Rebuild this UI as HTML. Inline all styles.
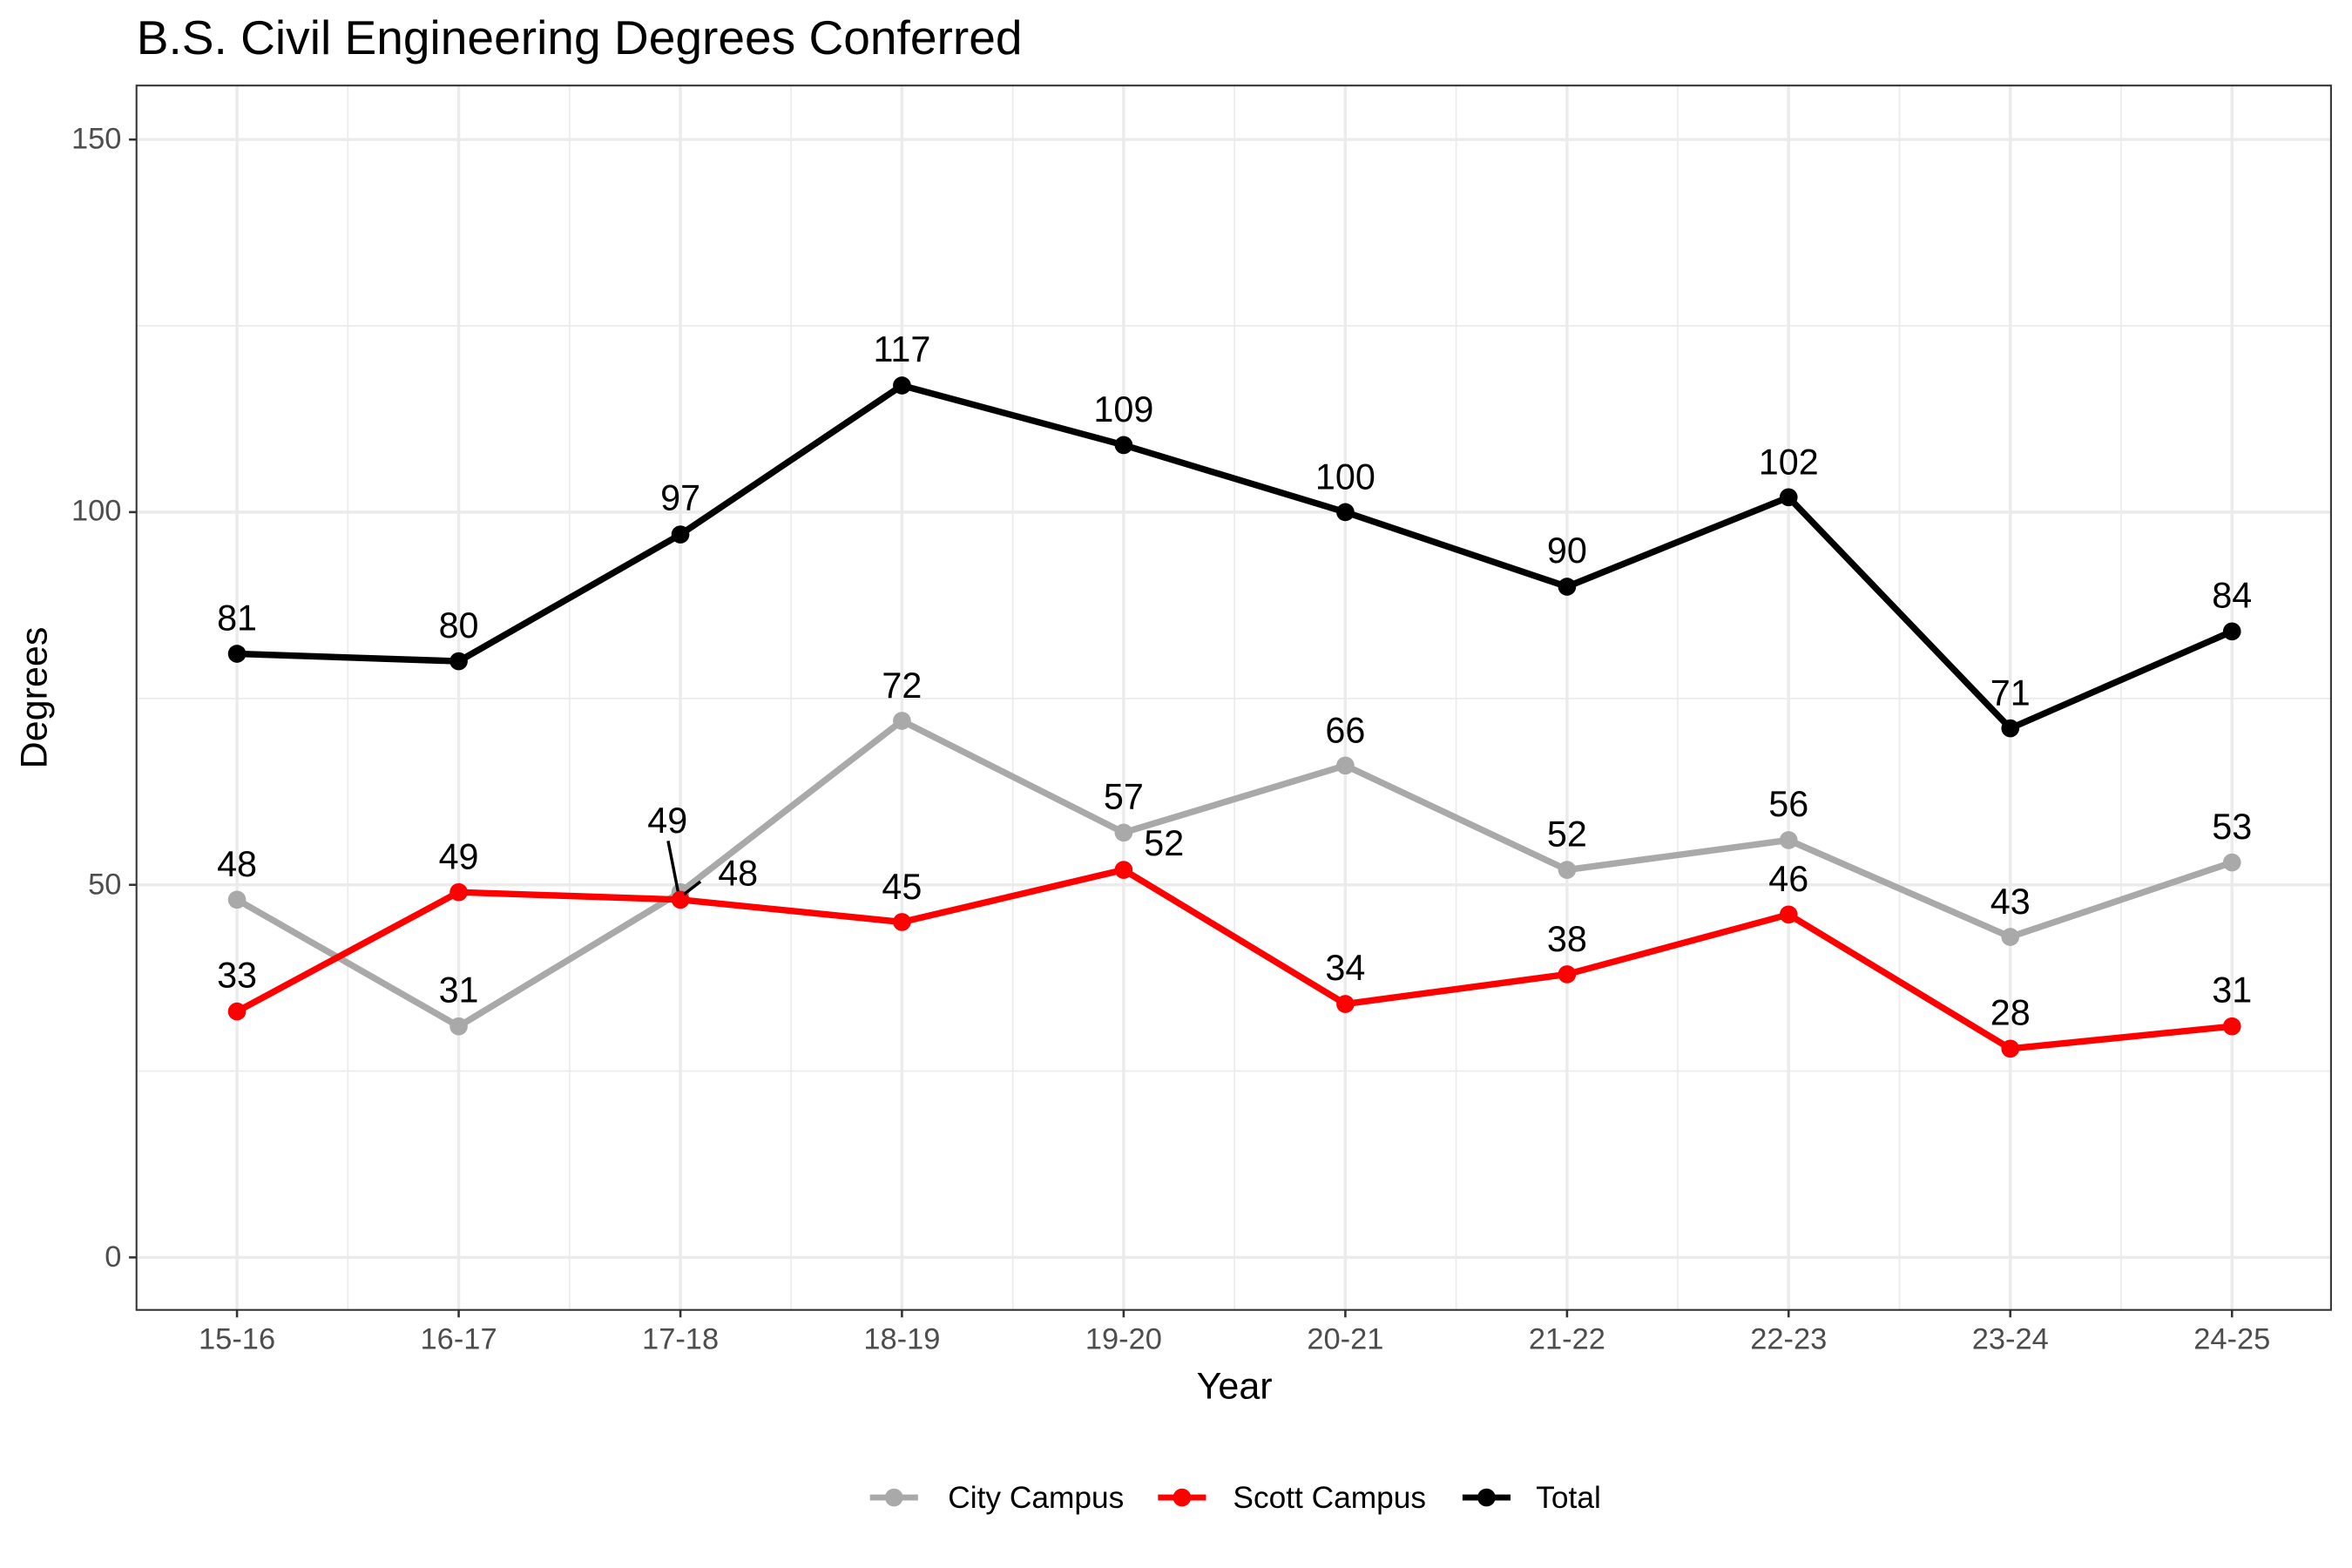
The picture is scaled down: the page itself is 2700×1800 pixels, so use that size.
<!DOCTYPE html>
<html><head><meta charset="utf-8"><style>html,body{margin:0;padding:0;background:#fff}svg{display:block}</style></head>
<body>
<svg width="2700" height="1800" viewBox="0 0 1568 1045" preserveAspectRatio="none" xmlns="http://www.w3.org/2000/svg" font-family="Liberation Sans, sans-serif">
<rect width="1568" height="1045" fill="#fff"/>
<text x="91" y="36" font-size="32" fill="#000">B.S. Civil Engineering Degrees Conferred</text>
<g stroke="#ebebeb" stroke-width="1">
<line x1="91" x2="1554" y1="713.8" y2="713.8"/><line x1="91" x2="1554" y1="465.5" y2="465.5"/><line x1="91" x2="1554" y1="217.2" y2="217.2"/>
<line x1="231.9" x2="231.9" y1="57" y2="873"/><line x1="379.7" x2="379.7" y1="57" y2="873"/><line x1="527.4" x2="527.4" y1="57" y2="873"/><line x1="675.2" x2="675.2" y1="57" y2="873"/><line x1="823" x2="823" y1="57" y2="873"/><line x1="970.8" x2="970.8" y1="57" y2="873"/><line x1="1118.5" x2="1118.5" y1="57" y2="873"/><line x1="1266.3" x2="1266.3" y1="57" y2="873"/><line x1="1414.1" x2="1414.1" y1="57" y2="873"/>
</g>
<g stroke="#ebebeb" stroke-width="2">
<line x1="91" x2="1554" y1="838" y2="838"/><line x1="91" x2="1554" y1="589.7" y2="589.7"/><line x1="91" x2="1554" y1="341.3" y2="341.3"/><line x1="91" x2="1554" y1="93" y2="93"/>
<line x1="158" x2="158" y1="57" y2="873"/><line x1="305.8" x2="305.8" y1="57" y2="873"/><line x1="453.6" x2="453.6" y1="57" y2="873"/><line x1="601.3" x2="601.3" y1="57" y2="873"/><line x1="749.1" x2="749.1" y1="57" y2="873"/><line x1="896.9" x2="896.9" y1="57" y2="873"/><line x1="1044.7" x2="1044.7" y1="57" y2="873"/><line x1="1192.4" x2="1192.4" y1="57" y2="873"/><line x1="1340.2" x2="1340.2" y1="57" y2="873"/><line x1="1488" x2="1488" y1="57" y2="873"/>
</g>
<g stroke="#333" stroke-width="1.5">
<line x1="86" x2="91" y1="838" y2="838"/><line x1="86" x2="91" y1="589.7" y2="589.7"/><line x1="86" x2="91" y1="341.3" y2="341.3"/><line x1="86" x2="91" y1="93" y2="93"/>
<line x1="158" x2="158" y1="873" y2="878"/><line x1="305.8" x2="305.8" y1="873" y2="878"/><line x1="453.6" x2="453.6" y1="873" y2="878"/><line x1="601.3" x2="601.3" y1="873" y2="878"/><line x1="749.1" x2="749.1" y1="873" y2="878"/><line x1="896.9" x2="896.9" y1="873" y2="878"/><line x1="1044.7" x2="1044.7" y1="873" y2="878"/><line x1="1192.4" x2="1192.4" y1="873" y2="878"/><line x1="1340.2" x2="1340.2" y1="873" y2="878"/><line x1="1488" x2="1488" y1="873" y2="878"/>
</g>
<g font-size="20" fill="#4d4d4d" text-anchor="end">
<text x="81" y="844">0</text><text x="81" y="596">50</text><text x="81" y="347">100</text><text x="81" y="99">150</text>
</g>
<g font-size="20" fill="#4d4d4d" text-anchor="middle">
<text x="158" y="899">15-16</text><text x="305.8" y="899">16-17</text><text x="453.6" y="899">17-18</text><text x="601.3" y="899">18-19</text><text x="749.1" y="899">19-20</text><text x="896.9" y="899">20-21</text><text x="1044.7" y="899">21-22</text><text x="1192.4" y="899">22-23</text><text x="1340.2" y="899">23-24</text><text x="1488" y="899">24-25</text>
</g>
<text x="823" y="932" font-size="25" text-anchor="middle">Year</text>
<text transform="translate(31,465) rotate(-90)" font-size="25" text-anchor="middle">Degrees</text>

<polyline fill="none" stroke="#a9a9a9" stroke-width="4.3" points="158,599.6 305.8,684 453.6,594.6 601.3,480.4 749.1,554.9 896.9,510.2 1044.7,579.7 1192.4,559.9 1340.2,624.4 1488,574.8"/>
<g fill="#a9a9a9"><circle cx="158" cy="599.6" r="6"/><circle cx="305.8" cy="684" r="6"/><circle cx="453.6" cy="594.6" r="6"/><circle cx="601.3" cy="480.4" r="6"/><circle cx="749.1" cy="554.9" r="6"/><circle cx="896.9" cy="510.2" r="6"/><circle cx="1044.7" cy="579.7" r="6"/><circle cx="1192.4" cy="559.9" r="6"/><circle cx="1340.2" cy="624.4" r="6"/><circle cx="1488" cy="574.8" r="6"/></g>
<polyline fill="none" stroke="#ff0000" stroke-width="4.3" points="158,674.1 305.8,594.6 453.6,599.6 601.3,614.5 749.1,579.7 896.9,669.1 1044.7,649.3 1192.4,609.5 1340.2,698.9 1488,684"/>
<g fill="#ff0000"><circle cx="158" cy="674.1" r="6"/><circle cx="305.8" cy="594.6" r="6"/><circle cx="453.6" cy="599.6" r="6"/><circle cx="601.3" cy="614.5" r="6"/><circle cx="749.1" cy="579.7" r="6"/><circle cx="896.9" cy="669.1" r="6"/><circle cx="1044.7" cy="649.3" r="6"/><circle cx="1192.4" cy="609.5" r="6"/><circle cx="1340.2" cy="698.9" r="6"/><circle cx="1488" cy="684" r="6"/></g>
<polyline fill="none" stroke="#000" stroke-width="4.3" points="158,435.7 305.8,440.7 453.6,356.2 601.3,256.9 749.1,296.6 896.9,341.3 1044.7,391 1192.4,331.4 1340.2,485.4 1488,420.8"/>
<g fill="#000"><circle cx="158" cy="435.7" r="6"/><circle cx="305.8" cy="440.7" r="6"/><circle cx="453.6" cy="356.2" r="6"/><circle cx="601.3" cy="256.9" r="6"/><circle cx="749.1" cy="296.6" r="6"/><circle cx="896.9" cy="341.3" r="6"/><circle cx="1044.7" cy="391" r="6"/><circle cx="1192.4" cy="331.4" r="6"/><circle cx="1340.2" cy="485.4" r="6"/><circle cx="1488" cy="420.8" r="6"/></g>

<g stroke="#000" stroke-width="2"><line x1="445.4" y1="560.4" x2="452" y2="594"/><line x1="456" y1="596" x2="467" y2="587.5"/></g>
<g font-size="24" fill="#000" text-anchor="middle">
<text x="158" y="420">81</text><text x="305.8" y="425">80</text><text x="453.6" y="340">97</text><text x="601.3" y="241">117</text><text x="749.1" y="281">109</text><text x="896.9" y="326">100</text><text x="1044.7" y="375">90</text><text x="1192.4" y="316">102</text><text x="1340.2" y="470">71</text><text x="1488" y="405">84</text>
<text x="158" y="584">48</text><text x="305.8" y="668">31</text><text x="445" y="555">49</text><text x="601.3" y="465">72</text><text x="749.1" y="539">57</text><text x="896.9" y="495">66</text><text x="1044.7" y="564">52</text><text x="1192.4" y="544">56</text><text x="1340.2" y="609">43</text><text x="1488" y="559">53</text>
<text x="158" y="658">33</text><text x="305.8" y="579">49</text><text x="492" y="590">48</text><text x="601.3" y="599">45</text><text x="776" y="570">52</text><text x="896.9" y="653">34</text><text x="1044.7" y="634">38</text><text x="1192.4" y="594">46</text><text x="1340.2" y="683">28</text><text x="1488" y="668">31</text>
</g>

<g font-size="20.5" fill="#000">
<line x1="580" x2="612" y1="998" y2="998" stroke="#a9a9a9" stroke-width="4"/><circle cx="596" cy="998" r="6" fill="#a9a9a9"/><text x="632" y="1005">City Campus</text>
<line x1="772" x2="804" y1="998" y2="998" stroke="#ff0000" stroke-width="4"/><circle cx="788" cy="998" r="6" fill="#ff0000"/><text x="822" y="1005">Scott Campus</text>
<line x1="975" x2="1007" y1="998" y2="998" stroke="#000" stroke-width="4"/><circle cx="991" cy="998" r="6" fill="#000"/><text x="1024" y="1005">Total</text>
</g>
<rect x="91" y="57" width="1463" height="816" fill="none" stroke="#333" stroke-width="1.2"/>
</svg>
</body></html>
